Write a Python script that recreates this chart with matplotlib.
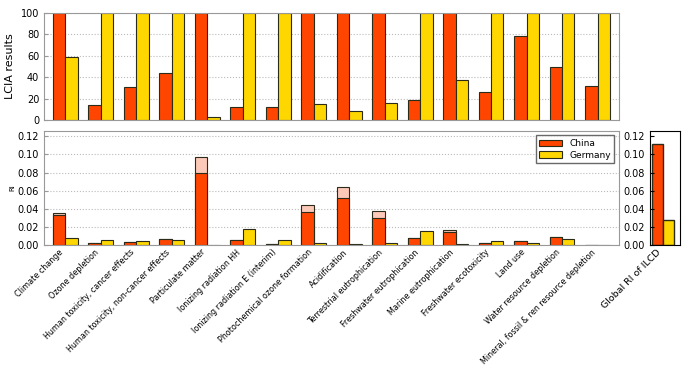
import matplotlib
matplotlib.use('Agg')
import matplotlib.pyplot as plt
import numpy as np

# impact categories (ILCD)
categories = ['Climate change', 'Ozone depletion', 'Human toxicity, cancer effects',
              'Human toxicity, non-cancer effects', 'Particulate matter', 'Ionizing radiation HH',
              'Ionizing radiation E (interim)', 'Photochemical ozone formation', 'Acidification',
              'Terrestrial eutrophication', 'Freshwater eutrophication', 'Marine eutrophication',
              'Freshwater ecotoxicity', 'Land use', 'Water resource depletion',
              'Mineral, fossil & ren resource depletion']

# LCIA results (relative, %)
lcia_china = [100, 14, 31, 44, 100, 12, 12, 100, 100, 100, 18.5, 100, 26.5, 79, 49.5, 32]
lcia_germany = [59, 100, 100, 100, 2.5, 100, 100, 15, 8.5, 16, 100, 37, 100, 100, 100, 100]

# RI per category
ri_china = [0.033, 0.0025, 0.0036, 0.0066, 0.079, 0.0052, 0.0012, 0.036, 0.052, 0.030,
            0.0074, 0.014, 0.0025, 0.004, 0.0092, 0.0003]
ri_china_upper = [0.035, 0.0025, 0.0036, 0.0066, 0.097, 0.0052, 0.0012, 0.044, 0.064, 0.038,
                  0.0074, 0.017, 0.0025, 0.004, 0.0092, 0.0003]
ri_germany = [0.0081, 0.0052, 0.0044, 0.0059, 0.0005, 0.0173, 0.0055, 0.0026, 0.0015, 0.002,
              0.0159, 0.0015, 0.0044, 0.0026, 0.0066, 0.0002]

# global RI
global_label = 'Global RI of ILCD'
global_china = 0.112
global_germany = 0.028

red = '#ff4500'
yellow = '#ffd700'
pink = '#fcc8b8'
edge = '#2b2b1a'
w = 0.35
x = np.arange(len(categories))
ri_ticks = np.arange(0, 0.121, 0.02)

fig = plt.figure(figsize=(6.9, 3.74), dpi=100)
ax_top = fig.add_axes([0.0638, 0.679, 0.833, 0.286])
ax_ri = fig.add_axes([0.0638, 0.345, 0.833, 0.305])
ax_gl = fig.add_axes([0.942, 0.345, 0.0435, 0.305])

for ax in (ax_top, ax_ri):
    for s in ax.spines.values():
        s.set_color('#999999')
    ax.yaxis.grid(True, ls=':', color='#bbbbbb', lw=0.8)
    ax.set_axisbelow(True)
    ax.set_xlim(-0.25, 15.95)
    ax.tick_params(axis='y', labelsize=7, length=3, direction='in', color='#999999')

# top: LCIA results
ax_top.bar(x, lcia_china, w, align='edge', color=red, edgecolor=edge, lw=0.8)
ax_top.bar(x + w, lcia_germany, w, align='edge', color=yellow, edgecolor=edge, lw=0.8)
ax_top.set_ylim(0, 100)
ax_top.set_yticks([0, 20, 40, 60, 80, 100])
ax_top.set_xticks([])
ax_top.set_ylabel('LCIA results', fontsize=8)

# bottom: RI per category
ax_ri.bar(x, ri_china_upper, w, align='edge', color=pink, edgecolor=edge, lw=0.8)
ax_ri.bar(x, ri_china, w, align='edge', color=red, edgecolor=edge, lw=0.8, label='China')
ax_ri.bar(x + w, ri_germany, w, align='edge', color=yellow, edgecolor=edge, lw=0.8, label='Germany')
ax_ri.set_ylim(0, 0.126)
ax_ri.set_yticks(ri_ticks)
ax_ri.set_yticklabels(['%.2f' % v for v in ri_ticks])
ax_ri.set_xticks(x + w)
ax_ri.set_xticklabels(categories, rotation=45, ha='right', fontsize=5.8)
ax_ri.tick_params(axis='x', length=0, pad=2)
ax_ri.set_ylabel('RI', fontsize=5, labelpad=2)
leg = ax_ri.legend(loc='upper right', fontsize=6.5, fancybox=False, handlelength=2.5,
                   borderpad=0.4, labelspacing=0.3)
leg.get_frame().set_edgecolor('#444444')

# right: global RI
ax_gl.bar([0], [global_china], w, align='edge', color=red, edgecolor=edge, lw=1)
ax_gl.bar([w], [global_germany], w, align='edge', color=yellow, edgecolor=edge, lw=1)
ax_gl.set_xlim(-0.05, 0.88)
ax_gl.set_ylim(0, 0.126)
ax_gl.set_yticks(ri_ticks)
ax_gl.set_yticklabels(['%.2f' % v for v in ri_ticks])
ax_gl.tick_params(axis='y', labelsize=7, length=3, direction='in')
ax_gl.set_xticks([w])
ax_gl.set_xticklabels([global_label], rotation=45, ha='right', fontsize=6.8)
ax_gl.tick_params(axis='x', length=0, pad=2)

fig.savefig('out.png', dpi=100)
